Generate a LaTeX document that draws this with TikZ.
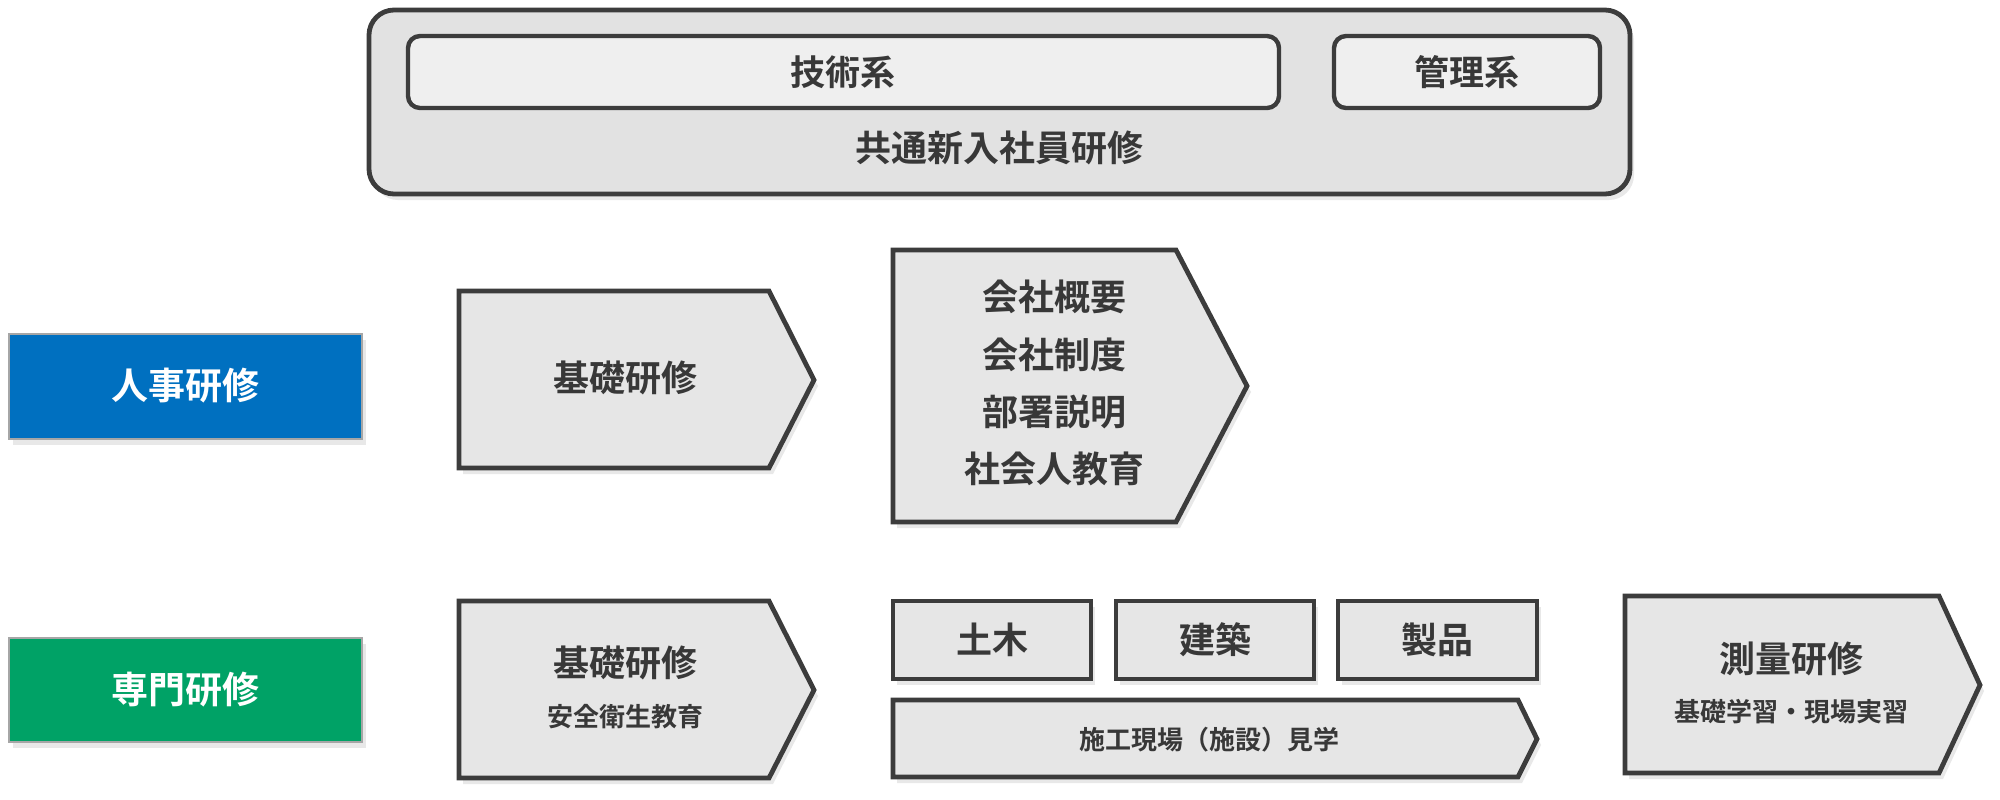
\documentclass[tikz,border=0pt]{standalone}
\usepackage{fontspec}
\setmainfont{Noto Sans CJK JP}[BoldFont={Noto Sans CJK JP Bold}]
\usetikzlibrary{shadows}
\definecolor{edge}{HTML}{3C3C3C}
\definecolor{boxfill}{HTML}{E6E6E6}
\definecolor{outerfill}{HTML}{E2E2E2}
\definecolor{innerfill}{HTML}{EFEFEF}
\definecolor{txt}{HTML}{383838}
\definecolor{hrblue}{HTML}{0070C0}
\definecolor{spgreen}{HTML}{00A266}
\tikzset{
  shp/.style={draw=edge, line width=2.4pt, fill=boxfill, line join=miter,
    drop shadow={opacity=0.18, shadow xshift=2pt, shadow yshift=-3pt}},
  flat/.style={draw=gray!70, line width=0.6pt,
    drop shadow={opacity=0.18, shadow xshift=2pt, shadow yshift=-3pt}},
  lbl/.style={text=txt, font=\bfseries\fontsize{18pt}{22pt}\selectfont, inner sep=0pt},
  sub/.style={text=txt, font=\bfseries\fontsize{13pt}{16pt}\selectfont, inner sep=0pt},
  wlbl/.style={text=white, font=\bfseries\fontsize{18.5pt}{22pt}\selectfont, inner sep=0pt}
}
\begin{document}
\begin{tikzpicture}[x=0.5pt,y=-0.5pt]
\useasboundingbox (0,0) rectangle (2000,799);
% top
\path[shp, fill=outerfill, rounded corners=12.5pt] (369,10) rectangle (1630,194);
\path[draw=edge, line width=2.2pt, fill=innerfill, rounded corners=6pt] (408,36) rectangle (1279,108);
\path[draw=edge, line width=2.2pt, fill=innerfill, rounded corners=6pt] (1334,36) rectangle (1600,108);
\node[lbl, font=\bfseries\fontsize{17.5pt}{22pt}\selectfont] (gijutsu) at (843,72) {技術系};
\node[lbl, font=\bfseries\fontsize{17.5pt}{22pt}\selectfont] (kanri) at (1467,72) {管理系};
\node[lbl] (kyotsu) at (999,148) {共通新入社員研修};
% left labels
\path[flat, fill=hrblue] (9,334) rectangle (362,439);
\node[wlbl] (jinji) at (185,386) {人事研修};
\path[flat, fill=spgreen] (9,638) rectangle (362,742);
\node[wlbl] (senmon) at (185,690) {専門研修};
% row 1
\path[shp] (459,291) -- (769,291) -- (814,380) -- (769,468) -- (459,468) -- cycle;
\node[lbl] (kiso1) at (625,378) {基礎研修};
\path[shp] (893,250) -- (1176,250) -- (1247,386) -- (1176,522) -- (893,522) -- cycle;
\node[lbl] (l1) at (1054,297) {会社概要};
\node[lbl] (l2) at (1054,355) {会社制度};
\node[lbl] (l3) at (1054,412) {部署説明};
\node[lbl] (l4) at (1054,469) {社会人教育};
% row 2
\path[shp] (459,601) -- (769,601) -- (814,690) -- (769,778) -- (459,778) -- cycle;
\node[lbl] (kiso2) at (625,663) {基礎研修};
\node[sub] (anzen) at (625,717) {安全衛生教育};
\path[shp] (893,601) rectangle (1091,679);
\node[lbl] (doboku) at (992,640) {土木};
\path[shp] (1116,601) rectangle (1314,679);
\node[lbl] (kenchiku) at (1215,640) {建築};
\path[shp] (1338,601) rectangle (1537,679);
\node[lbl] (seihin) at (1437,640) {製品};
\path[shp] (893,700) -- (1518,700) -- (1537,739) -- (1518,777) -- (893,777) -- cycle;
\node[sub] (genba) at (1209,740) {施工現場（施設）見学};
\path[shp] (1625,596) -- (1939,596) -- (1980,685) -- (1939,773) -- (1625,773) -- cycle;
\node[lbl] (sokuryo) at (1791,659) {測量研修};
\node[sub] (jisshu) at (1791,712) {基礎学習・現場実習};
\end{tikzpicture}
\end{document}
